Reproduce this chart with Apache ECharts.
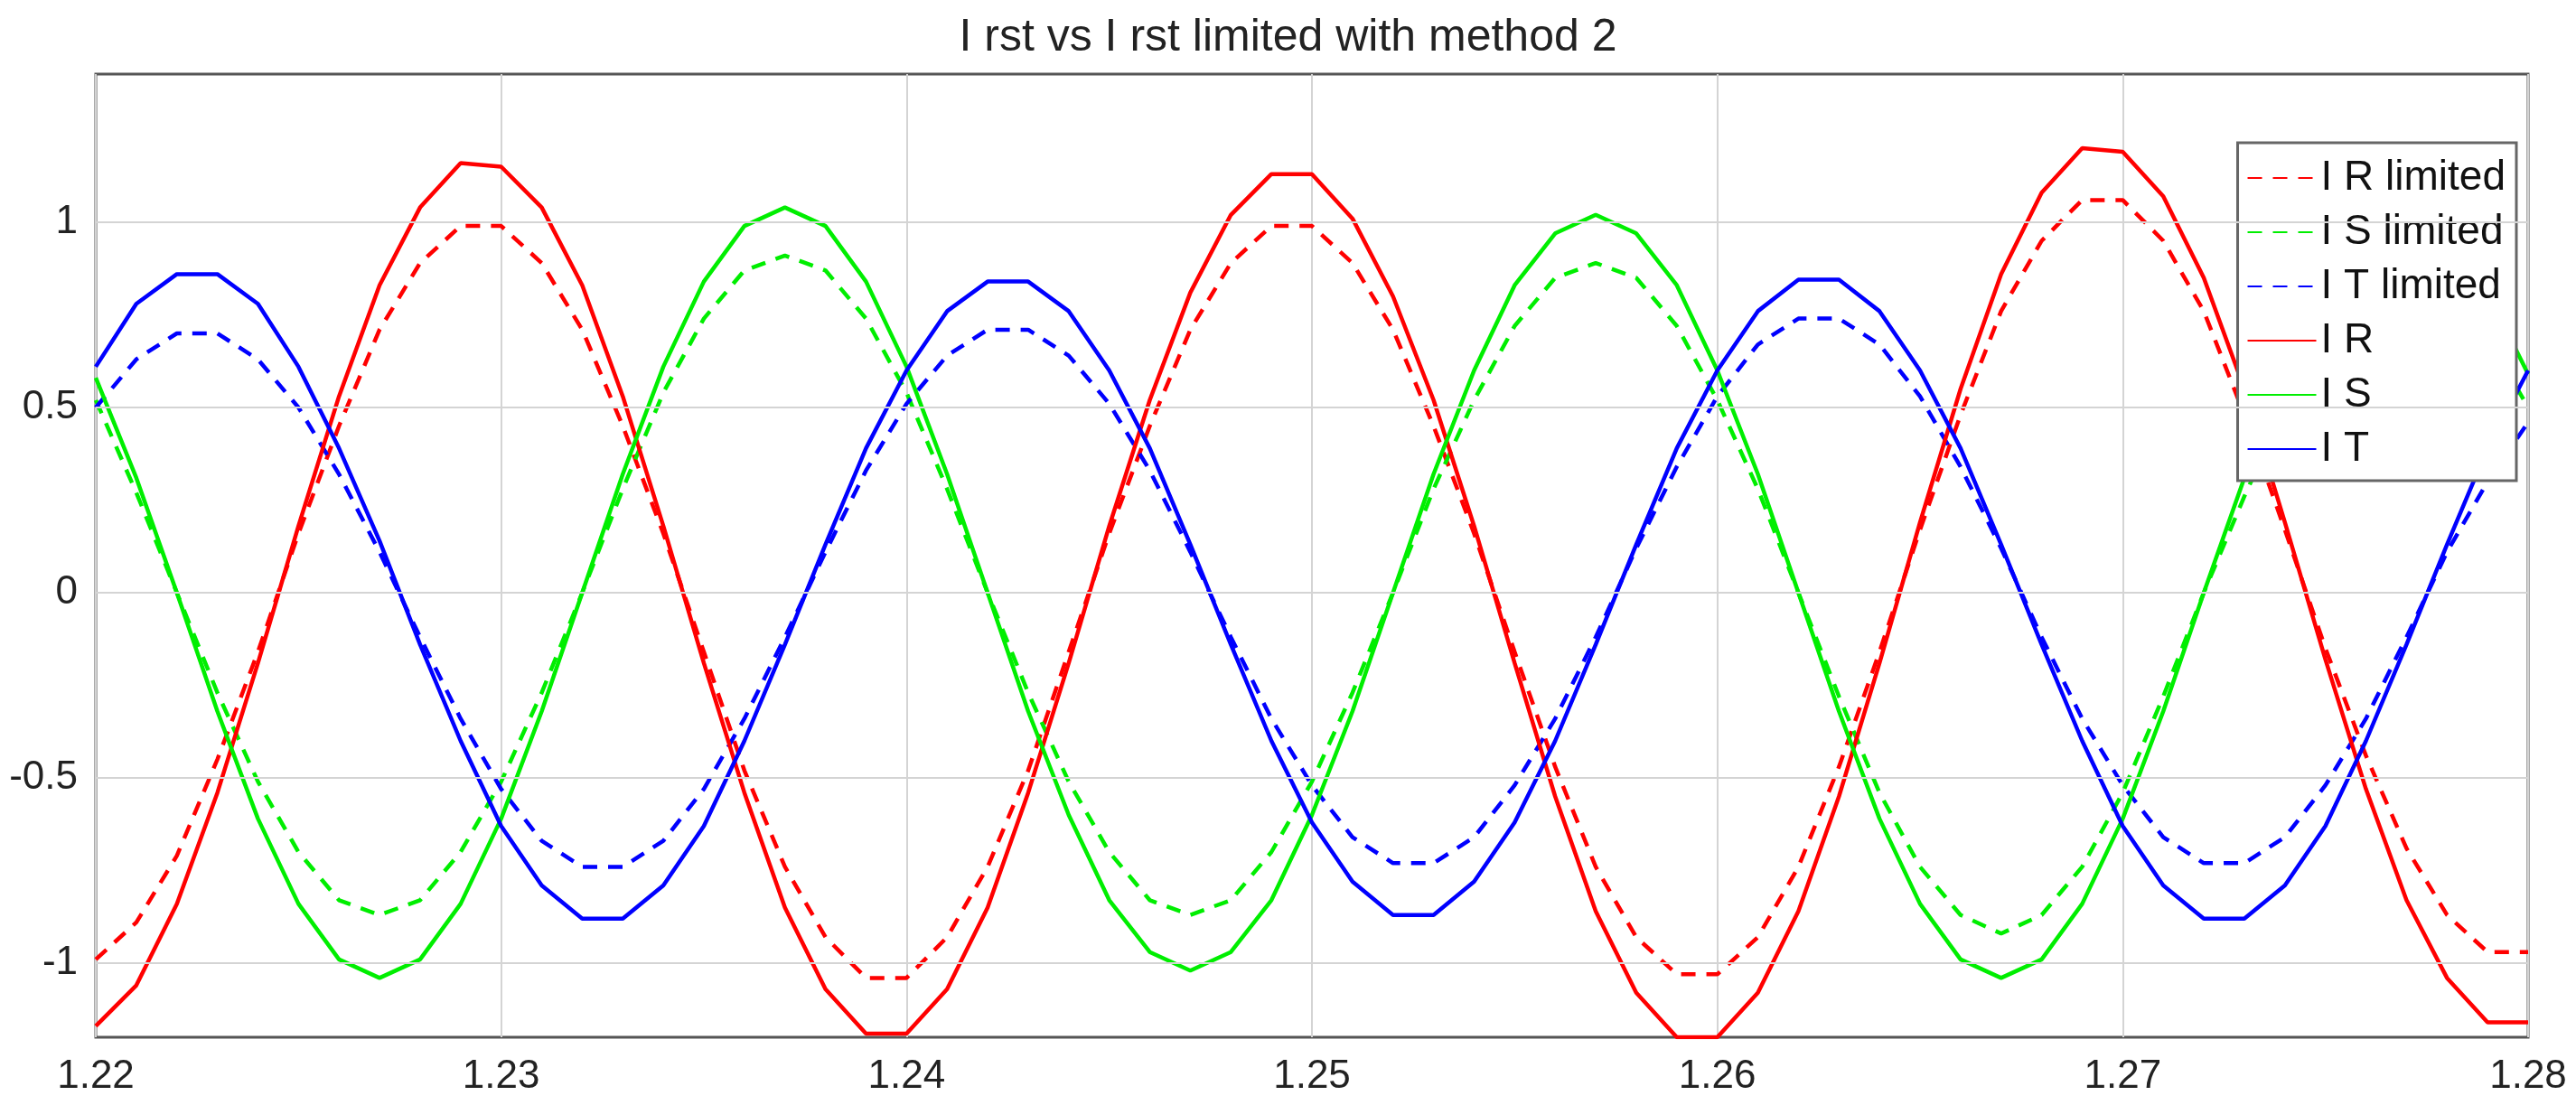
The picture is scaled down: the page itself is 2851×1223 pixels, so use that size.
<!DOCTYPE html>
<html>
<head>
<meta charset="utf-8">
<script src="https://cdn.jsdelivr.net/npm/echarts@6/dist/echarts.min.js"></script>
<style>html,body{margin:0;background:#fff}#main{width:2851px;height:1223px}</style>
</head>
<body>
<div id="main"></div>
<script>
// time axis, 1 ms steps
var time = [1.220,1.221,1.222,1.223,1.224,1.225,1.226,1.227,1.228,1.229,
    1.230,1.231,1.232,1.233,1.234,1.235,1.236,1.237,1.238,1.239,
    1.240,1.241,1.242,1.243,1.244,1.245,1.246,1.247,1.248,1.249,
    1.250,1.251,1.252,1.253,1.254,1.255,1.256,1.257,1.258,1.259,
    1.260,1.261,1.262,1.263,1.264,1.265,1.266,1.267,1.268,1.269,
    1.270,1.271,1.272,1.273,1.274,1.275,1.276,1.277,1.278,1.279,1.280];

var iR = [-1.17,-1.06,-0.84,-0.54,-0.19,0.18,0.53,0.83,1.04,1.16,
    1.15,1.04,0.83,0.53,0.18,-0.19,-0.54,-0.85,-1.07,-1.19,
    -1.19,-1.07,-0.85,-0.54,-0.19,0.18,0.52,0.81,1.02,1.13,
    1.13,1.01,0.80,0.52,0.18,-0.19,-0.55,-0.86,-1.08,-1.20,
    -1.20,-1.08,-0.86,-0.55,-0.19,0.19,0.55,0.86,1.08,1.20,
    1.19,1.07,0.85,0.55,0.19,-0.18,-0.53,-0.83,-1.04,-1.16,-1.16];
var iRlim = [-0.99,-0.89,-0.71,-0.45,-0.16,0.16,0.45,0.71,0.89,0.99,
    0.99,0.89,0.71,0.45,0.16,-0.16,-0.48,-0.74,-0.93,-1.04,
    -1.04,-0.93,-0.74,-0.48,-0.16,0.16,0.45,0.71,0.89,0.99,
    0.99,0.89,0.71,0.45,0.16,-0.16,-0.47,-0.74,-0.93,-1.03,
    -1.03,-0.93,-0.74,-0.47,-0.16,0.17,0.48,0.76,0.95,1.06,
    1.06,0.95,0.76,0.48,0.17,-0.15,-0.44,-0.69,-0.87,-0.97,-0.97];
var iS = [0.58,0.31,0.00,-0.32,-0.61,-0.84,-0.99,-1.04,-0.99,-0.84,
    -0.61,-0.32,0.00,0.32,0.61,0.84,0.99,1.04,0.99,0.84,
    0.61,0.32,0.00,-0.32,-0.60,-0.83,-0.97,-1.02,-0.97,-0.83,
    -0.60,-0.32,0.00,0.32,0.60,0.83,0.97,1.02,0.97,0.83,
    0.60,0.32,0.00,-0.32,-0.61,-0.84,-0.99,-1.04,-0.99,-0.84,
    -0.61,-0.32,0.00,0.31,0.59,0.81,0.95,1.00,0.95,0.81,0.59];
var iSlim = [0.52,0.27,0.00,-0.27,-0.51,-0.70,-0.83,-0.87,-0.83,-0.70,
    -0.51,-0.27,0.00,0.28,0.54,0.74,0.87,0.91,0.87,0.74,
    0.54,0.28,0.00,-0.27,-0.51,-0.70,-0.83,-0.87,-0.83,-0.70,
    -0.51,-0.27,0.00,0.28,0.52,0.72,0.85,0.89,0.85,0.72,
    0.52,0.28,0.00,-0.28,-0.54,-0.74,-0.87,-0.92,-0.87,-0.74,
    -0.54,-0.28,0.00,0.26,0.50,0.69,0.81,0.85,0.81,0.69,0.50];
var iT = [0.61,0.78,0.86,0.86,0.78,0.61,0.39,0.14,-0.14,-0.40,
    -0.63,-0.79,-0.88,-0.88,-0.79,-0.63,-0.40,-0.14,0.13,0.39,
    0.60,0.76,0.84,0.84,0.76,0.60,0.39,0.13,-0.14,-0.40,
    -0.62,-0.78,-0.87,-0.87,-0.78,-0.62,-0.40,-0.14,0.13,0.39,
    0.60,0.76,0.845,0.845,0.76,0.60,0.39,0.13,-0.14,-0.40,
    -0.63,-0.79,-0.88,-0.88,-0.79,-0.63,-0.40,-0.14,0.13,0.39,0.60];
var iTlim = [0.50,0.63,0.70,0.70,0.63,0.50,0.32,0.11,-0.12,-0.34,
    -0.53,-0.67,-0.74,-0.74,-0.67,-0.53,-0.34,-0.12,0.11,0.33,
    0.51,0.64,0.71,0.71,0.64,0.51,0.33,0.11,-0.12,-0.34,
    -0.52,-0.66,-0.73,-0.73,-0.66,-0.52,-0.34,-0.12,0.12,0.34,
    0.53,0.67,0.74,0.74,0.67,0.53,0.34,0.12,-0.12,-0.34,
    -0.52,-0.66,-0.73,-0.73,-0.66,-0.52,-0.34,-0.12,0.11,0.30,0.46];

var yTicks = [-1, -0.5, 0, 0.5, 1];

function pairs(v) {
    return time.map(function (t, i) { return [t, v[i]]; });
}
function line(name, v, color, dashed) {
    return {
        name: name, type: 'line', data: pairs(v), showSymbol: false, symbol: 'none', symbolSize: 0,
        animation: false,
        lineStyle: { color: color, width: 4.5, type: dashed ? [16, 12] : 'solid' },
        itemStyle: { color: color }
    };
}

var chart = echarts.init(document.getElementById('main'));
var series = [
    line('I R limited', iRlim, '#ff0000', true),
    line('I S limited', iSlim, '#00ee00', true),
    line('I T limited', iTlim, '#0000ff', true),
    line('I R', iR, '#ff0000', false),
    line('I S', iS, '#00ee00', false),
    line('I T', iT, '#0000ff', false)
];
// horizontal grid lines at the labelled y ticks
series[0].markLine = {
    silent: true, symbol: 'none', label: { show: false },
    lineStyle: { color: '#d4d4d4', width: 2, type: 'solid' },
    data: yTicks.map(function (v) { return { yAxis: v }; })
};

chart.setOption({
    backgroundColor: '#fff',
    title: {
        text: 'I rst vs I rst limited with method 2', left: 'center', top: 12,
        textStyle: { fontFamily: 'Arial, Liberation Sans', fontSize: 50, fontWeight: 'normal', color: '#222' }
    },
    grid: { left: 106, right: 53, top: 82, bottom: 75, show: true, borderColor: '#555', borderWidth: 3 },
    legend: {
        orient: 'vertical', right: 66, top: 158,
        backgroundColor: '#fff', borderColor: '#666', borderWidth: 3, borderRadius: 0,
        padding: [16, 12, 12, 10], itemGap: 14, itemWidth: 76, itemHeight: 12,
        itemStyle: { opacity: 0 },
        textStyle: { fontFamily: 'Arial, Liberation Sans', fontSize: 46, color: '#111' },
        data: ['I R limited', 'I S limited', 'I T limited', 'I R', 'I S', 'I T']
    },
    xAxis: {
        type: 'value', min: 1.22, max: 1.28, interval: 0.01,
        axisLine: { show: false },
        axisTick: { show: false },
        splitLine: { lineStyle: { color: '#d4d4d4', width: 2 } },
        axisLabel: {
            fontFamily: 'Arial, Liberation Sans', fontSize: 44, color: '#222', margin: 22,
            formatter: function (v) { return v.toFixed(2); }
        }
    },
    yAxis: {
        type: 'value', min: -1.2, max: 1.4,
        axisLine: { show: false },
        axisTick: { show: false },
        splitLine: { show: false },
        axisLabel: {
            customValues: yTicks,
            fontFamily: 'Arial, Liberation Sans', fontSize: 44, color: '#222', margin: 20
        }
    },
    series: series
});
</script>
</body>
</html>
